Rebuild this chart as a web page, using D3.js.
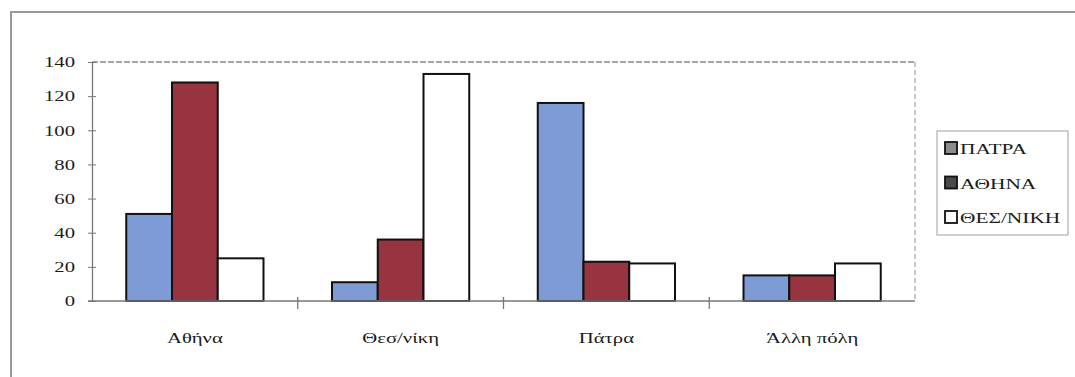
<!DOCTYPE html>
<html>
<head>
<meta charset="utf-8">
<script src="https://cdn.jsdelivr.net/npm/d3@7"></script>
<style>
  html, body { margin: 0; padding: 0; background: #ffffff; }
  svg text { font-family: "Liberation Serif", "Times New Roman", serif; fill: #1a1a1a; }
</style>
</head>
<body>
<svg id="chart" width="1075" height="377"></svg>
<script>
// Categories (place of origin) and series (city of study)
const categories = ["Αθήνα", "Θεσ/νίκη", "Πάτρα", "Άλλη πόλη"];
const seriesNames = ["ΠΑΤΡΑ", "ΑΘΗΝΑ", "ΘΕΣ/ΝΙΚΗ"];
const patraValues = [51, 11, 116, 15];
const athinaValues = [128, 36, 23, 15];
const thessValues = [25, 133, 22, 22];
const yTicks = [0, 20, 40, 60, 80, 100, 120, 140];

const seriesValues = [patraValues, athinaValues, thessValues];
const barColors = ["#7f9bd6", "#97343f", "#ffffff"];
const legendColors = ["#8c8c8c", "#4a4a4a", "#ffffff"];
const SX = 1.38; // horizontal stretch applied to all text

const svg = d3.select("#chart");

// outer chart frame (runs off the right and bottom edges)
svg.append("rect")
  .attr("x", 11).attr("y", 12)
  .attr("width", 1120).attr("height", 420)
  .attr("fill", "none").attr("stroke", "#9a9a9a").attr("stroke-width", 2);

const plot = { left: 92, right: 915, top: 62, bottom: 301 };

const x = d3.scaleBand()
  .domain(categories)
  .range([plot.left, plot.right])
  .paddingInner(0.333)
  .paddingOuter(0.1665);

const xs = d3.scaleBand()
  .domain(seriesNames)
  .range([0, x.bandwidth()]);

const y = d3.scaleLinear().domain([0, 140]).range([plot.bottom, plot.top]);

// top gridline and right border of plot area (dashed grey)
svg.append("line")
  .attr("x1", plot.left).attr("x2", plot.right)
  .attr("y1", y(140)).attr("y2", y(140))
  .attr("stroke", "#8a8a8a").attr("stroke-width", 1.3).attr("stroke-dasharray", "6,2");
svg.append("line")
  .attr("x1", plot.right).attr("x2", plot.right)
  .attr("y1", y(140)).attr("y2", y(0))
  .attr("stroke", "#a0a0a0").attr("stroke-width", 1.2).attr("stroke-dasharray", "5,3");

// bars
const groups = svg.append("g").selectAll("g")
  .data(categories)
  .join("g")
  .attr("transform", d => `translate(${x(d)},0)`);

groups.selectAll("rect")
  .data((d, i) => seriesNames.map((s, k) => ({ s, k, v: seriesValues[k][i] })))
  .join("rect")
  .attr("x", d => xs(d.s))
  .attr("y", d => y(d.v))
  .attr("width", xs.bandwidth())
  .attr("height", d => y(0) - y(d.v))
  .attr("fill", d => barColors[d.k])
  .attr("stroke", "#111")
  .attr("stroke-width", 2);

// y axis
const yAxis = svg.append("g")
  .attr("transform", `translate(${plot.left},0)`)
  .call(d3.axisLeft(y).tickValues(yTicks).tickSize(4).tickSizeOuter(0));
yAxis.select(".domain").attr("stroke", "#777").attr("stroke-width", 1.3);
yAxis.selectAll(".tick line").attr("stroke", "#777").attr("x2", 4).attr("x1", -4);
yAxis.selectAll(".tick text")
  .attr("x", -17 / SX)
  .attr("transform", `scale(${SX},1)`)
  .attr("font-size", 15)
  .attr("font-family", "Liberation Serif, serif")
  .attr("fill", "#1a1a1a");

// x axis baseline with category separators
const xAxis = svg.append("g")
  .attr("transform", `translate(0,${plot.bottom})`);
xAxis.append("line")
  .attr("x1", plot.left - 4).attr("x2", plot.right)
  .attr("stroke", "#777").attr("stroke-width", 1.3);
const boundaries = categories.slice(1).map(c => x(c) - x.step() * x.paddingInner() / 2);
xAxis.selectAll("line.sep")
  .data(boundaries)
  .join("line")
  .attr("class", "sep")
  .attr("x1", d => d).attr("x2", d => d)
  .attr("y1", -4).attr("y2", 8)
  .attr("stroke", "#777").attr("stroke-width", 1.3);

// category labels
svg.append("g").selectAll("g")
  .data(categories)
  .join("g")
  .attr("transform", d => `translate(${x(d) + x.bandwidth() / 2},343) scale(${SX},1)`)
  .append("text")
  .attr("text-anchor", "middle")
  .attr("font-size", 15)
  .text(d => d);

// legend
const legend = svg.append("g").attr("transform", "translate(937,131)");
legend.append("rect")
  .attr("width", 131).attr("height", 104)
  .attr("fill", "#fff").attr("stroke", "#b0b0b0").attr("stroke-width", 1.2);
const items = legend.selectAll("g.item")
  .data(seriesNames)
  .join("g")
  .attr("class", "item")
  .attr("transform", (d, i) => `translate(8,${17 + i * 34.5})`);
items.append("rect")
  .attr("x", 0).attr("y", -6)
  .attr("width", 12).attr("height", 12)
  .attr("fill", (d, i) => legendColors[i])
  .attr("stroke", "#111").attr("stroke-width", 1.8);
items.append("g")
  .attr("transform", `translate(15,6) scale(${SX},1)`)
  .append("text")
  .attr("font-size", 15.5)
  .text(d => d);
</script>
</body>
</html>
